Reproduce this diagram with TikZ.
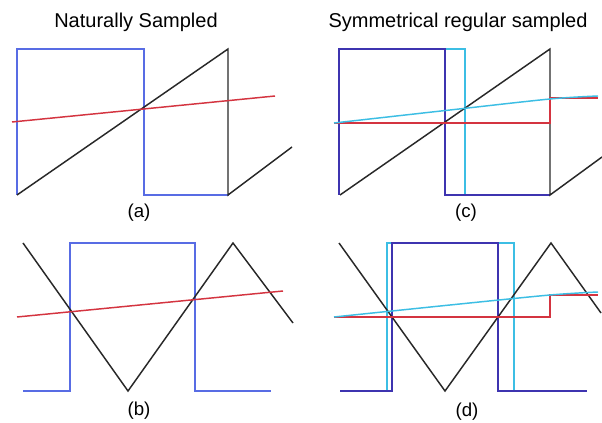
\documentclass[tikz,border=0pt]{standalone}
\usepackage{fontspec}
\setmainfont{Liberation Sans}
\definecolor{pwmblue}{RGB}{88,108,228}
\definecolor{regblue}{RGB}{62,52,176}
\definecolor{natcyan}{RGB}{60,190,228}
\definecolor{sigred}{RGB}{212,52,64}
\definecolor{carrgray}{RGB}{40,40,40}
\begin{document}
\begin{tikzpicture}[x=0.75pt, y=-0.75pt, line join=miter,
    carrier/.style={draw=carrgray, line width=1.1pt},
    modsig/.style={draw=sigred, line width=1.1pt},
    holdsig/.style={draw=sigred, line width=1.1pt},
    cyansig/.style={draw=natcyan, line width=1.1pt},
    pwmnat/.style={draw=pwmblue, line width=1.1pt},
    pwmreg/.style={draw=regblue, line width=1.1pt},
    pwmcyan/.style={draw=natcyan, line width=1.1pt},
    title/.style={font=\fontsize{15}{18}\selectfont, anchor=base},
    caption/.style={font=\fontsize{14}{16}\selectfont, anchor=base}]
    \useasboundingbox[fill=white] (0,0) rectangle (602,423);

    % ================= 标题 =================
    \node[title] (tnat) at (136,28) {Naturally Sampled};
    \node[title] (treg) at (458,28) {Symmetrical regular sampled};

    % ================= (a) 自然采样，锯齿载波 =================
    \begin{scope}
        % 1. PWM 输出
        \draw[pwmnat] (17,195) -- (17,49) -- (144,49) -- (144,195) -- (229,195);
        % 2. 锯齿载波
        \draw[carrier] (17,195) -- (228,49) -- (228,195) -- (292,147);
        % 3. 调制信号
        \draw[modsig] (12,122) -- (275,96);
        \node[caption] (capa) at (139,218) {(a)};
    \end{scope}

    % ================= (c) 对称规则采样，锯齿载波 =================
    \begin{scope}
        % 1. PWM 输出 (自然采样对照 + 规则采样)
        \draw[pwmcyan] (339,195) -- (339,49) -- (465,49) -- (465,195) -- (550,195);
        \draw[pwmreg] (339,195) -- (339,49) -- (445,49) -- (445,195) -- (550,195);
        % 2. 锯齿载波
        \draw[carrier] (340,195) -- (550,49) -- (550,195) -- (602,157);
        % 3. 采样保持信号与原调制信号
        \draw[holdsig] (334,123) -- (550,123) -- (550,98) -- (598,98);
        \draw[cyansig, smooth] plot coordinates {(334,123) (450,110) (550,99) (598,96)};
        \node[caption] (capc) at (466,218) {(c)};
    \end{scope}

    % ================= (b) 自然采样，三角载波 =================
    \begin{scope}
        % 1. PWM 输出
        \draw[pwmnat] (23,391) -- (70,391) -- (70,243) -- (195,243) -- (195,391) -- (271,391);
        % 2. 三角载波
        \draw[carrier] (23,243) -- (128,391) -- (233,243) -- (293,323);
        % 3. 调制信号
        \draw[modsig] (17,317) -- (283,291);
        \node[caption] (capb) at (139,415) {(b)};
    \end{scope}

    % ================= (d) 对称规则采样，三角载波 =================
    \begin{scope}
        % 1. PWM 输出 (自然采样对照 + 规则采样)
        \draw[pwmcyan] (340,391) -- (387,391) -- (387,243) -- (514,243) -- (514,391) -- (587,391);
        \draw[pwmreg] (340,391) -- (392,391) -- (392,243) -- (498,243) -- (498,391) -- (587,391);
        % 2. 三角载波
        \draw[carrier] (339,243) -- (445,391) -- (551,243) -- (601,313);
        % 3. 采样保持信号与原调制信号
        \draw[holdsig] (334,317) -- (550,317) -- (550,295) -- (598,295);
        \draw[cyansig, smooth] plot coordinates {(334,317) (450,305) (550,295) (598,292)};
        \node[caption] (capd) at (467,416) {(d)};
    \end{scope}
\end{tikzpicture}
\end{document}
